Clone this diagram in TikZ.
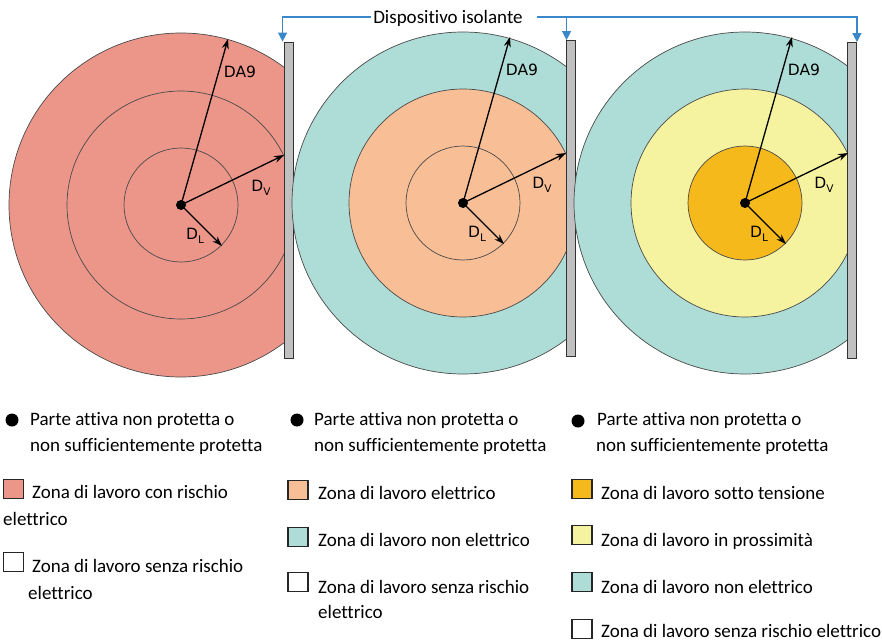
\documentclass[tikz,border=0pt]{standalone}
\usepackage{fontspec}
\setmainfont[Ligatures=NoCommon]{Carlito}
\newfontfamily\lblfont{DejaVu Sans}
\usetikzlibrary{arrows.meta}
\definecolor{salmonz}{HTML}{EC968A}
\definecolor{tealz}{HTML}{AEDCD6}
\definecolor{peachz}{HTML}{F8BE96}
\definecolor{yellowz}{HTML}{F5F2A0}
\definecolor{orangez}{HTML}{F5B91C}
\definecolor{circz}{HTML}{4A4A4A}
\definecolor{barz}{HTML}{C0C0C0}
\definecolor{bluez}{HTML}{3A87C9}
\newcommand\subz[1]{\raisebox{-3.5pt}{\fontsize{10.5}{10.5}\selectfont #1}}
\begin{document}
\begin{tikzpicture}[x=1pt,y=-1pt,
  circline/.style={draw=circz,line width=0.7pt},
  barbox/.style={draw=black!80,fill=barz,line width=0.9pt,minimum width=9pt,minimum height=316pt,inner sep=0pt},
  dotz/.style={circle,fill=black,inner sep=0pt,minimum size=10pt},
  arr/.style={-{Stealth[length=10pt,width=7pt]},line width=1.3pt},
  lbl/.style={font=\lblfont\fontsize{15.5}{15.5}\selectfont,inner sep=0pt},
  leg/.style={font=\fontsize{19}{19}\selectfont,anchor=base west,inner sep=0pt},
  sq/.style={draw=black!85,line width=1.3pt,minimum width=20pt,minimum height=19pt,inner sep=0pt},
  bul/.style={circle,fill=black,inner sep=0pt,minimum size=13pt},
  bline/.style={draw=bluez,line width=1.2pt},
  barr/.style={bline,-{Triangle[length=9pt,width=9pt]}}]
\useasboundingbox[fill=white] (0,0) rectangle (882,642);

% ---- panel 1
\begin{scope}
\clip (0,0) rectangle (284,400);
\fill[salmonz] (181,205) circle[radius=172];
\draw[circline] (181,205) circle[radius=172];
\draw[circline] (181,205) circle[radius=114];
\draw[circline] (181,205) circle[radius=57];
\end{scope}
\node[barbox] (b1) at (288.5,200) {};
\node[dotz] (c1) at (181,205) {};
\coordinate (t1a) at ([shift={(47,-166)}]c1.center);
\coordinate (t1v) at ([shift={(103,-50)}]c1.center);
\coordinate (t1l) at ([shift={(41,41)}]c1.center);
\draw[arr] (c1.center) -- (t1a);
\draw[arr] (c1.center) -- (t1v);
\draw[arr] (c1.center) -- (t1l);
\node[lbl] (l1a) at ([shift={(59,-133)}]c1.center) {DA9};
\node[lbl] (l1v) at ([shift={(80,-17)}]c1.center) {D\subz{V}};
\node[lbl] (l1l) at ([shift={(14,31)}]c1.center) {D\subz{L}};

% ---- panel 2
\begin{scope}
\clip (200,0) rectangle (566,400);
\fill[tealz] (463,203) circle[radius=171];
\draw[circline] (463,203) circle[radius=171];
\fill[peachz] (463,203) circle[radius=114];
\draw[circline] (463,203) circle[radius=114];
\draw[circline] (463,203) circle[radius=57];
\end{scope}
\node[barbox] (b2) at (570.5,198.5) {};
\node[dotz] (c2) at (463,203) {};
\coordinate (t2a) at ([shift={(47,-166)}]c2.center);
\coordinate (t2v) at ([shift={(103,-50)}]c2.center);
\coordinate (t2l) at ([shift={(41,41)}]c2.center);
\draw[arr] (c2.center) -- (t2a);
\draw[arr] (c2.center) -- (t2v);
\draw[arr] (c2.center) -- (t2l);
\node[lbl] (l2a) at ([shift={(59,-133)}]c2.center) {DA9};
\node[lbl] (l2v) at ([shift={(79,-18)}]c2.center) {D\subz{V}};
\node[lbl] (l2l) at ([shift={(14,31)}]c2.center) {D\subz{L}};

% ---- panel 3
\begin{scope}
\clip (500,0) rectangle (848,400);
\fill[tealz] (745,203) circle[radius=171];
\draw[circline] (745,203) circle[radius=171];
\fill[yellowz] (745,203) circle[radius=114];
\draw[circline] (745,203) circle[radius=114];
\fill[orangez] (745,203) circle[radius=57];
\draw[circline] (745,203) circle[radius=57];
\end{scope}
\node[barbox] (b3) at (852,200.5) {};
\node[dotz] (c3) at (745,203) {};
\coordinate (t3a) at ([shift={(47,-166)}]c3.center);
\coordinate (t3v) at ([shift={(103,-50)}]c3.center);
\coordinate (t3l) at ([shift={(41,41)}]c3.center);
\draw[arr] (c3.center) -- (t3a);
\draw[arr] (c3.center) -- (t3v);
\draw[arr] (c3.center) -- (t3l);
\node[lbl] (l3a) at ([shift={(59,-133)}]c3.center) {DA9};
\node[lbl] (l3v) at ([shift={(79,-18)}]c3.center) {D\subz{V}};
\node[lbl] (l3l) at ([shift={(14,31)}]c3.center) {D\subz{L}};

% ---- bracket
\node[font=\fontsize{19}{19}\selectfont,anchor=base,inner sep=0pt] (dev) at (448,23.5) {Dispositivo isolante};
\coordinate (jl) at (371,17);
\coordinate (jr) at (537,17);
\coordinate (k1) at ([shift={(-1,0)}]b1.north west);
\coordinate (k2) at ([shift={(1,0)}]b2.north west);
\coordinate (k3) at (b3.north east);
\draw[barr] (jl) -| (k1);
\draw[barr] (jr) -| (k3);
\draw[barr] (jr -| k2) -- (k2);

% ---- legend column 1
\node[bul] (p1) at (12,420) {};
\node[leg] (p1a) at (30,425) {Parte attiva non protetta o};
\node[leg] (p1b) at (30,451) {non sufficientemente protetta};
\node[sq,fill=salmonz] (s1a) at (13.5,489) {};
\node[leg] (z1a) at (32,498) {Zona di lavoro con rischio};
\node[leg] (z1b) at (3,525) {elettrico};
\node[sq,fill=white] (s1b) at (13.5,562) {};
\node[leg] (z1c) at (32,572) {Zona di lavoro senza rischio};
\node[leg] (z1d) at (28,599) {elettrico};

% ---- legend column 2
\node[bul] (p2) at (297,420) {};
\node[leg] (p2a) at (314,425) {Parte attiva non protetta o};
\node[leg] (p2b) at (314,451) {non sufficientemente protetta};
\node[sq,fill=peachz] (s2a) at (298,490) {};
\node[leg] (z2a) at (318,499) {Zona di lavoro elettrico};
\node[sq,fill=tealz] (s2b) at (298,537) {};
\node[leg] (z2b) at (318,546) {Zona di lavoro non elettrico};
\node[sq,fill=white] (s2c) at (298,582) {};
\node[leg] (z2c) at (318,593) {Zona di lavoro senza rischio};
\node[leg] (z2d) at (318,618) {elettrico};

% ---- legend column 3
\node[bul] (p3) at (578,421) {};
\node[leg] (p3a) at (597,425) {Parte attiva non protetta o};
\node[leg] (p3b) at (596,451) {non sufficientemente protetta};
\node[sq,fill=orangez] (s3a) at (582,489) {};
\node[leg] (z3a) at (601,499) {Zona di lavoro sotto tensione};
\node[sq,fill=yellowz] (s3b) at (582,535) {};
\node[leg] (z3b) at (601,546) {Zona di lavoro in prossimità};
\node[sq,fill=tealz] (s3c) at (582,582) {};
\node[leg] (z3c) at (601,593) {Zona di lavoro non elettrico};
\node[sq,fill=white] (s3d) at (582,629) {};
\node[leg] (z3d) at (601,637) {Zona di lavoro senza rischio elettrico};
\end{tikzpicture}
\end{document}
